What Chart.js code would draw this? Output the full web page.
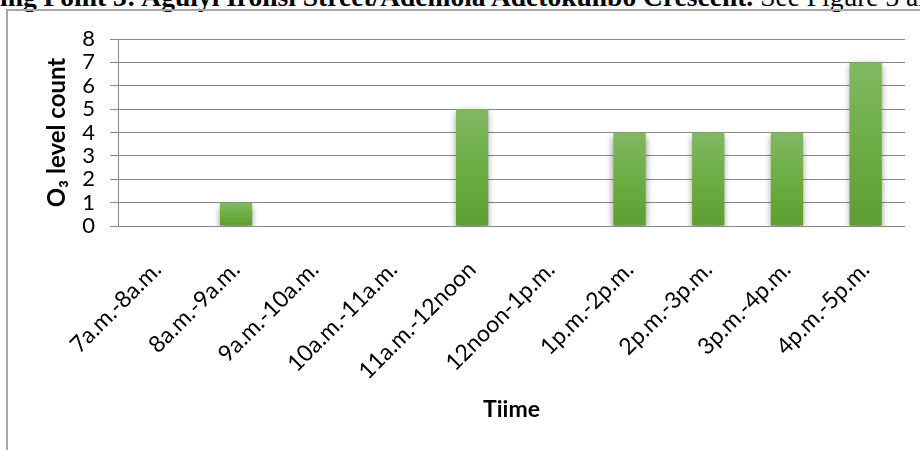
<!DOCTYPE html>
<html>
<head>
<meta charset="utf-8">
<title>O3 level count by time</title>
<script src="https://cdn.jsdelivr.net/npm/chart.js@4/dist/chart.umd.min.js"></script>
<style>
  html, body { margin: 0; padding: 0; background: #fff; overflow: hidden; }
  body { width: 920px; height: 450px; position: relative; }
  #heading {
    position: absolute; left: 0; top: -17px; white-space: nowrap;
    font-family: "Liberation Serif", "Times New Roman", serif;
    font-size: 27.5px; line-height: 27.5px; color: #000;
  }
  #heading b { font-weight: bold; }
  #frame {
    position: absolute; left: 6px; top: 9px; width: 1000px; height: 1000px;
    border-left: 2px solid #a6a6a6; border-top: 2px solid #a6a6a6;
  }
  #chart { position: absolute; left: 0; top: 0; }
</style>
</head>
<body>
<div id="heading"><b>ing Point 3: Aguiyi Ironsi Street/Ademola Adetokunbo Crescent.</b> See Figure 3 an</div>
<div id="frame"></div>
<canvas id="chart" width="920" height="450"></canvas>
<script>
// Hourly sampling windows
const timeSlots = [
  '7a.m.-8a.m.', '8a.m.-9a.m.', '9a.m.-10a.m.', '10a.m.-11a.m.', '11a.m.-12noon',
  '12noon-1p.m.', '1p.m.-2p.m.', '2p.m.-3p.m.', '3p.m.-4p.m.', '4p.m.-5p.m.'
];
// Number of O3 readings recorded in each window
const o3Counts = [0, 1, 0, 0, 5, 0, 4, 4, 4, 7];
// Value axis range
const yMin = 0;
const yMax = 8;
const yStep = 1;

const labelFont = 'Lato, "Open Sans", sans-serif';
const gridGrey = '#888888';

// Soft drop shadow behind the bars
const barShadow = {
  id: 'barShadow',
  beforeDatasetsDraw(chart) {
    const ctx = chart.ctx;
    ctx.save();
    ctx.shadowColor = 'rgba(0,0,0,0.45)';
    ctx.shadowBlur = 7;
    ctx.shadowOffsetX = 0;
    ctx.shadowOffsetY = 3;
  },
  afterDatasetsDraw(chart) {
    chart.ctx.restore();
  }
};

// Vertical green gradient per bar, light at the top, darker at the base
function barFill(context) {
  const chart = context.chart;
  const yScale = chart.scales.y;
  const v = context.raw;
  if (!yScale || !chart.chartArea || !v) return '#6aa83f';
  const top = yScale.getPixelForValue(v);
  const base = yScale.getPixelForValue(0);
  const g = chart.ctx.createLinearGradient(0, top, 0, base);
  g.addColorStop(0, '#82b864');
  g.addColorStop(0.5, '#6dad44');
  g.addColorStop(1, '#5c9e31');
  return g;
}

new Chart(document.getElementById('chart'), {
  type: 'bar',
  data: {
    labels: timeSlots,
    datasets: [{
      data: o3Counts,
      backgroundColor: barFill,
      borderWidth: 0,
      barPercentage: 0.41,
      categoryPercentage: 1.0
    }]
  },
  plugins: [barShadow],
  options: {
    responsive: false,
    animation: false,
    devicePixelRatio: 1,
    layout: { padding: { left: 0, top: 39, right: 15, bottom: 0 } },
    plugins: {
      legend: { display: false },
      tooltip: { enabled: false }
    },
    scales: {
      x: {
        grid: { display: false, drawTicks: false },
        border: { display: false },
        ticks: {
          color: '#000',
          font: { family: labelFont, size: 23 },
          minRotation: 45,
          maxRotation: 45,
          padding: 30,
          autoSkip: false
        },
        title: {
          display: true,
          text: 'Tiime',
          color: '#000',
          font: { family: labelFont, size: 23, weight: 'bold' },
          padding: { top: 0, bottom: 27 }
        },
        afterFit(scale) { scale.height = 224; }
      },
      y: {
        min: yMin,
        max: yMax,
        grid: { color: gridGrey, lineWidth: 1, tickLength: 8, drawTicks: true },
        border: { display: true, color: gridGrey, width: 1 },
        ticks: {
          stepSize: yStep,
          autoSkip: false,
          color: '#000',
          font: { family: labelFont, size: 22 },
          padding: 15
        },
        title: {
          display: true,
          text: 'O₃ level count',
          color: '#000',
          font: { family: labelFont, size: 24, weight: 'bold' },
          padding: { top: 43, bottom: 0 }
        },
        afterFit(scale) { scale.width = 118; }
      }
    }
  }
});
</script>
</body>
</html>
